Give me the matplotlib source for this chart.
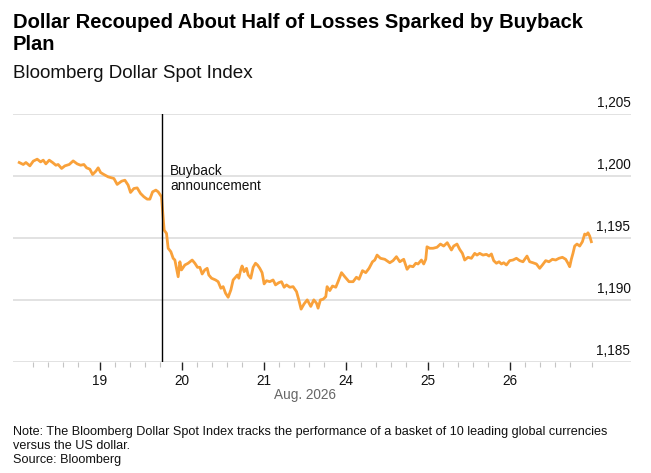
import matplotlib
matplotlib.use("Agg")
import matplotlib.pyplot as plt
import matplotlib.transforms as mtransforms

plt.rcParams['font.family'] = ['Liberation Sans', 'DejaVu Sans']

# trading-day position (0 = start of Aug 18, weekend removed) and index level
t_days = [0.016, 0.065, 0.098, 0.146, 0.187, 0.235, 0.277, 0.309, 0.341, 0.382,
          0.423, 0.463, 0.491, 0.533, 0.573, 0.626, 0.674, 0.723, 0.765, 0.805,
          0.838, 0.878, 0.911, 0.951, 0.979, 1.009, 1.049, 1.101, 1.171, 1.211,
          1.265, 1.305, 1.345, 1.374, 1.415, 1.455, 1.496, 1.537, 1.577, 1.610,
          1.643, 1.683, 1.711, 1.752, 1.768, 1.784, 1.813, 1.833, 1.866, 1.894,
          1.915, 1.935, 1.955, 1.976, 1.996, 2.037, 2.077, 2.126, 2.159, 2.191,
          2.220, 2.248, 2.280, 2.309, 2.329, 2.362, 2.411, 2.443, 2.476, 2.504,
          2.533, 2.565, 2.598, 2.626, 2.655, 2.679, 2.695, 2.720, 2.735, 2.760,
          2.789, 2.809, 2.841, 2.870, 2.899, 2.923, 2.951, 2.979, 3.004, 3.033,
          3.073, 3.113, 3.143, 3.183, 3.216, 3.248, 3.277, 3.317, 3.357, 3.399,
          3.427, 3.455, 3.491, 3.530, 3.573, 3.610, 3.643, 3.662, 3.691, 3.723,
          3.756, 3.772, 3.805, 3.838, 3.878, 3.906, 3.948, 3.988, 4.040, 4.089,
          4.130, 4.162, 4.204, 4.244, 4.284, 4.326, 4.354, 4.382, 4.423, 4.476,
          4.537, 4.577, 4.618, 4.659, 4.707, 4.748, 4.780, 4.821, 4.854, 4.882,
          4.923, 4.951, 4.976, 4.991, 5.024, 5.065, 5.113, 5.155, 5.195, 5.238,
          5.289, 5.317, 5.357, 5.390, 5.423, 5.451, 5.491, 5.533, 5.573, 5.601,
          5.634, 5.674, 5.716, 5.748, 5.777, 5.805, 5.838, 5.870, 5.899, 5.927,
          5.960, 6.000, 6.040, 6.082, 6.122, 6.162, 6.211, 6.244, 6.284, 6.326,
          6.366, 6.399, 6.439, 6.479, 6.521, 6.561, 6.601, 6.643, 6.683, 6.711,
          6.732, 6.752, 6.772, 6.793, 6.821, 6.854, 6.887, 6.915, 6.935, 6.955,
          6.976, 6.996]
dxy = [1201.08, 1200.92, 1201.08, 1200.81, 1201.19, 1201.35, 1201.13, 1201.27, 1200.97, 1201.27,
       1201.08, 1200.86, 1200.92, 1200.60, 1200.81, 1200.92, 1201.21, 1200.97, 1200.86, 1200.92,
       1200.65, 1200.54, 1200.11, 1200.38, 1200.65, 1200.27, 1200.11, 1199.92, 1199.79, 1199.31,
       1199.57, 1199.65, 1199.25, 1198.66, 1198.98, 1199.03, 1198.58, 1198.31, 1198.12, 1198.12,
       1198.71, 1198.85, 1198.71, 1198.31, 1196.97, 1195.62, 1195.35, 1194.15, 1193.87, 1193.34,
       1193.20, 1192.53, 1191.85, 1193.06, 1192.40, 1192.80, 1192.94, 1193.20, 1192.94, 1192.61,
       1192.61, 1192.07, 1192.40, 1192.53, 1191.99, 1191.73, 1191.59, 1191.45, 1190.92, 1191.05,
       1190.52, 1190.19, 1190.78, 1191.59, 1191.81, 1191.99, 1191.73, 1192.45, 1192.72, 1192.26,
       1192.53, 1191.99, 1191.73, 1192.61, 1192.94, 1192.80, 1192.53, 1192.18, 1191.27, 1191.53,
       1191.45, 1191.59, 1191.19, 1191.37, 1191.45, 1191.00, 1191.19, 1191.00, 1191.05, 1190.65,
       1189.98, 1189.23, 1189.65, 1189.98, 1189.45, 1189.98, 1189.71, 1189.31, 1189.98, 1190.03,
       1190.24, 1191.05, 1190.73, 1191.10, 1191.00, 1191.45, 1192.18, 1191.85, 1191.45, 1191.45,
       1191.81, 1191.65, 1192.34, 1192.18, 1192.53, 1193.06, 1193.20, 1193.60, 1193.34, 1193.26,
       1192.98, 1193.15, 1193.47, 1193.06, 1193.26, 1192.45, 1192.72, 1192.66, 1192.94, 1192.88,
       1193.20, 1192.88, 1193.26, 1194.27, 1194.15, 1194.15, 1194.23, 1194.49, 1194.33, 1194.60,
       1194.01, 1194.33, 1194.49, 1194.06, 1193.74, 1193.20, 1193.42, 1193.34, 1193.74, 1193.60,
       1193.74, 1193.60, 1193.66, 1193.52, 1193.69, 1193.15, 1192.94, 1193.06, 1192.88, 1192.98,
       1192.80, 1193.15, 1193.20, 1193.34, 1193.15, 1193.06, 1193.52, 1193.06, 1192.98, 1192.88,
       1192.53, 1192.80, 1193.15, 1193.06, 1193.26, 1193.20, 1193.34, 1193.42, 1193.26, 1192.94,
       1192.66, 1193.26, 1193.74, 1194.33, 1194.49, 1194.33, 1194.68, 1195.30, 1195.22, 1195.40,
       1195.14, 1194.68]

day_pos = [1, 2, 3, 4, 5, 6]
day_labels = ['19', '20', '21', '24', '25', '26']
y_ticks = [1185, 1190, 1195, 1200, 1205]
buyback_t = 1.76

fig = plt.figure(figsize=(6.51, 4.73), dpi=100)
ax = fig.add_axes([13 / 651, 1 - 361.5 / 473, 618 / 651, 247.5 / 473])

ax.plot(t_days, dxy, color='#f9a13a', lw=2.0, solid_joinstyle='round', zorder=3)
ax.axvline(buyback_t, color='black', lw=1, zorder=4)
ax.text(buyback_t + 0.095, 1200.95, 'Buyback\nannouncement', fontsize=9.8,
        va='top', ha='left', linespacing=1.05, color='#111111')

ax.set_xlim(-0.06, 7.48)
ax.set_ylim(1185, 1205)

for s in ax.spines.values():
    s.set_visible(False)

ax.set_yticks(y_ticks)
ax.yaxis.grid(True, color='#e2e2e2', lw=1.4)
ax.set_axisbelow(True)
ax.tick_params(axis='y', length=0, labelleft=False, labelright=False)
trans = mtransforms.blended_transform_factory(ax.transAxes, ax.transData)
for v in y_ticks:
    ax.text(0.999, v + 0.3, f'{v:,}', transform=trans, ha='right', va='bottom',
            fontsize=9.8, color='#111111')

minor = [d + k * 0.183 for d in range(7) for k in range(1, 5)] + [7.0]
ax.set_xticks(day_pos)
ax.set_xticklabels(day_labels)
ax.set_xticks(minor, minor=True)
ax.tick_params(axis='x', which='major', length=6, width=1, color='#222222',
               labelsize=9.8, pad=3, labelcolor='#111111')
ax.tick_params(axis='x', which='minor', length=3.5, width=0.8, color='#c4c4c4')
ax.text(3.5, -0.135, 'Aug. 2026', transform=mtransforms.blended_transform_factory(ax.transData, ax.transAxes),
        ha='center', va='center', fontsize=9.8, color='#666666')

fig.text(13 / 651, 1 - 22 / 473, 'Dollar Recouped About Half of Losses Sparked by Buyback',
         fontsize=14.5, fontweight='bold', va='center', ha='left', color='#000000')
fig.text(13 / 651, 1 - 45 / 473, 'Plan',
         fontsize=14.5, fontweight='bold', va='center', ha='left', color='#000000')
fig.text(13 / 651, 1 - 74 / 473, 'Bloomberg Dollar Spot Index', fontsize=13.6,
         va='center', ha='left', color='#111111')

notes = ['Note: The Bloomberg Dollar Spot Index tracks the performance of a basket of 10 leading global currencies',
         'versus the US dollar.',
         'Source: Bloomberg']
for i, line in enumerate(notes):
    fig.text(13 / 651, 1 - (432 + 14 * i) / 473, line, fontsize=9.1,
             va='center', ha='left', color='#111111')

fig.savefig('out.png', dpi=100)
